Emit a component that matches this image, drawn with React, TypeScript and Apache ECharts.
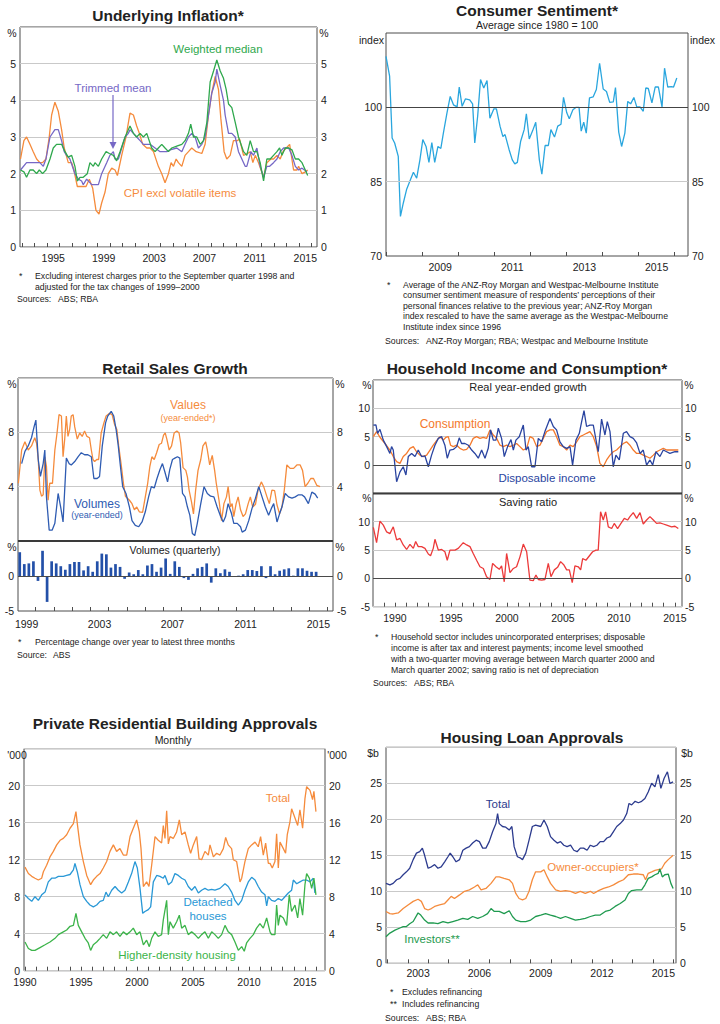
import React, { useEffect, useRef } from "react";
import * as echarts from "echarts";

const FONT = '"Liberation Sans", Arial, Helvetica, sans-serif';

// ===== Panel 1: Underlying Inflation (year-ended, %) =====
const inflTrimmedMean = [
  [1992.9, 2.1], [1993.38, 2.3], [1994.44, 2.3], [1994.71, 2.2], [1994.92, 2.4], [1995.24, 3.0], [1995.63, 3.2], [1995.9, 3.2],
  [1996.16, 2.9], [1996.37, 2.6], [1996.56, 2.5], [1996.82, 2.4], [1997.22, 2.0], [1997.49, 1.85], [1997.75, 1.8], [1997.88, 1.7],
  [1998.15, 1.85], [1998.55, 1.7], [1999.08, 1.7], [1999.34, 2.0], [1999.74, 2.3], [2000.0, 2.5], [2000.27, 2.6], [2000.4, 2.4],
  [2000.67, 2.4], [2000.93, 2.7], [2001.2, 3.0], [2001.46, 3.1], [2001.59, 3.2], [2001.86, 3.1], [2002.12, 3.0], [2002.39, 2.9],
  [2002.65, 2.8], [2003.18, 2.8], [2003.58, 2.7], [2003.98, 2.6], [2004.51, 2.6], [2004.77, 2.65], [2005.3, 2.7], [2005.7, 2.6],
  [2005.96, 2.8], [2006.23, 3.0], [2006.49, 3.1], [2006.76, 3.0], [2007.02, 2.7], [2007.29, 2.8], [2007.55, 3.0], [2007.82, 3.6],
  [2008.08, 4.2], [2008.35, 4.5], [2008.48, 4.85], [2008.75, 4.4], [2009.01, 4.0], [2009.14, 3.6], [2009.41, 3.1], [2009.67, 3.1],
  [2009.94, 3.0], [2010.2, 2.6], [2010.73, 2.2], [2010.86, 2.2], [2011.18, 2.6], [2011.39, 2.5], [2011.66, 2.7], [2011.92, 2.2],
  [2012.19, 1.9], [2012.45, 2.2], [2012.67, 2.2], [2012.98, 2.3], [2013.25, 2.4], [2013.51, 2.6], [2013.78, 2.7], [2014.18, 2.7],
  [2014.44, 2.5], [2014.71, 2.2], [2014.97, 2.1], [2015.24, 2.15], [2015.64, 2.05],
];
const inflWeightedMedian = [
  [1992.9, 2.1], [1993.17, 2.05], [1993.38, 1.9], [1993.65, 2.1], [1993.91, 2.1], [1994.18, 2.0], [1994.39, 2.1], [1994.65, 2.0],
  [1994.92, 2.1], [1995.24, 2.4], [1995.5, 2.7], [1995.76, 2.8], [1996.16, 2.8], [1996.43, 2.6], [1996.69, 2.45], [1996.96, 2.5],
  [1997.22, 2.2], [1997.41, 1.8], [1997.62, 1.9], [1997.88, 1.9], [1998.2, 2.0], [1998.41, 2.3], [1998.68, 2.2], [1998.81, 2.3],
  [1999.08, 2.2], [1999.34, 2.4], [1999.69, 2.6], [1999.95, 2.55], [2000.27, 2.5], [2000.53, 2.35], [2000.8, 2.6], [2001.2, 3.0],
  [2001.59, 3.3], [2001.86, 3.1], [2002.12, 3.0], [2002.39, 3.1], [2002.65, 3.0], [2002.92, 3.1], [2003.31, 2.7], [2003.58, 2.6],
  [2003.84, 2.7], [2004.11, 2.8], [2004.37, 2.7], [2004.64, 2.6], [2004.9, 2.7], [2005.3, 2.75], [2005.7, 2.8], [2005.96, 2.9],
  [2006.23, 3.1], [2006.41, 3.35], [2006.63, 3.0], [2006.89, 3.0], [2007.16, 2.8], [2007.42, 2.9], [2007.69, 3.4], [2007.95, 4.5],
  [2008.22, 4.8], [2008.48, 5.1], [2008.75, 4.8], [2009.01, 4.6], [2009.22, 4.3], [2009.41, 3.9], [2009.67, 3.8], [2009.94, 3.4],
  [2010.2, 3.0], [2010.6, 2.6], [2010.86, 2.5], [2011.13, 2.9], [2011.39, 2.6], [2011.66, 2.6], [2011.92, 2.3], [2012.19, 1.8],
  [2012.45, 2.4], [2012.72, 2.4], [2012.98, 2.5], [2013.25, 2.6], [2013.46, 2.7], [2013.65, 2.5], [2013.91, 2.7], [2014.18, 2.7],
  [2014.44, 2.65], [2014.71, 2.4], [2014.97, 2.4], [2015.24, 2.3], [2015.5, 2.1], [2015.69, 1.95],
];
const inflCpiExVolatile = [
  [1992.9, 2.4], [1993.17, 2.9], [1993.38, 3.0], [1993.65, 2.8], [1993.91, 2.6], [1994.18, 2.4], [1994.44, 2.3], [1994.65, 2.3],
  [1994.92, 2.4], [1995.18, 3.0], [1995.37, 3.6], [1995.63, 3.95], [1995.9, 3.7], [1996.16, 3.2], [1996.37, 2.7], [1996.69, 2.3],
  [1996.96, 2.3], [1997.14, 2.1], [1997.41, 1.65], [1997.75, 1.65], [1998.1, 1.65], [1998.36, 1.85], [1998.63, 1.6], [1998.89, 1.0],
  [1999.13, 0.9], [1999.34, 1.2], [1999.61, 1.5], [1999.87, 2.0], [2000.14, 2.15], [2000.4, 2.1], [2000.59, 1.95], [2000.93, 2.5],
  [2001.27, 3.0], [2001.59, 3.65], [2001.86, 3.6], [2002.12, 3.3], [2002.33, 3.1], [2002.6, 2.8], [2002.92, 2.7], [2003.18, 2.7],
  [2003.45, 2.6], [2003.84, 2.2], [2004.11, 2.0], [2004.37, 1.75], [2004.64, 2.0], [2004.85, 2.3], [2005.04, 2.2], [2005.25, 2.4],
  [2005.43, 2.3], [2005.7, 2.2], [2005.96, 2.5], [2006.23, 2.6], [2006.49, 2.7], [2006.84, 2.6], [2007.29, 2.55], [2007.55, 2.8],
  [2007.82, 3.6], [2008.08, 4.2], [2008.35, 4.65], [2008.61, 4.3], [2008.8, 3.5], [2009.06, 2.6], [2009.27, 2.4], [2009.54, 2.5],
  [2009.8, 2.9], [2010.12, 2.9], [2010.28, 2.95], [2010.6, 2.5], [2010.92, 2.55], [2011.13, 2.6], [2011.34, 2.3], [2011.53, 2.5],
  [2011.79, 2.3], [2012.19, 1.9], [2012.45, 2.3], [2012.77, 2.4], [2012.98, 2.4], [2013.25, 2.5], [2013.51, 2.4], [2013.73, 2.6],
  [2013.99, 2.7], [2014.26, 2.8], [2014.57, 2.1], [2014.84, 2.1], [2014.97, 2.2], [2015.24, 2.0], [2015.5, 2.05], [2015.69, 2.1],
];
const inflYLabels = [0, 1, 2, 3, 4, 5];
const inflXLabels = [1995, 1999, 2003, 2007, 2011, 2015];

// ===== Panel 2: Consumer Sentiment (index, average since 1980 = 100) =====
const sentiment = [
  [2008.0, 110.3], [2008.1, 106.3], [2008.17, 93.8], [2008.24, 92.8], [2008.34, 90.1], [2008.4, 78.0], [2008.48, 80.7], [2008.57, 83.4],
  [2008.66, 85.1], [2008.76, 86.9], [2008.85, 85.7], [2008.94, 89.4], [2009.02, 93.5], [2009.11, 92.1], [2009.19, 88.9], [2009.27, 92.9],
  [2009.35, 88.9], [2009.44, 92.1], [2009.52, 91.7], [2009.59, 94.8], [2009.69, 98.9], [2009.78, 102.2], [2009.87, 100.5], [2009.97, 100.1],
  [2010.03, 104.1], [2010.11, 100.2], [2010.2, 101.7], [2010.32, 101.5], [2010.4, 100.7], [2010.46, 92.8], [2010.54, 98.2], [2010.62, 105.6],
  [2010.71, 103.9], [2010.8, 105.4], [2010.88, 97.8], [2010.99, 99.7], [2011.06, 99.7], [2011.16, 96.2], [2011.24, 94.1], [2011.3, 94.5],
  [2011.41, 91.5], [2011.5, 89.4], [2011.57, 88.6], [2011.64, 88.9], [2011.73, 93.1], [2011.83, 95.5], [2011.89, 98.7], [2011.97, 93.6],
  [2012.06, 95.2], [2012.15, 97.0], [2012.25, 89.4], [2012.32, 86.5], [2012.41, 92.3], [2012.5, 92.3], [2012.57, 95.5], [2012.67, 94.0],
  [2012.76, 96.2], [2012.85, 96.6], [2012.92, 102.0], [2013.01, 98.9], [2013.08, 97.7], [2013.18, 99.5], [2013.27, 100.0], [2013.35, 100.0],
  [2013.41, 95.2], [2013.48, 97.0], [2013.55, 94.8], [2013.64, 101.9], [2013.74, 102.1], [2013.83, 103.6], [2013.92, 108.9], [2014.02, 103.7],
  [2014.11, 103.2], [2014.2, 101.0], [2014.3, 101.1], [2014.36, 104.0], [2014.45, 95.0], [2014.53, 92.1], [2014.62, 94.8], [2014.7, 101.2],
  [2014.78, 100.7], [2014.87, 102.0], [2014.95, 100.1], [2015.04, 100.1], [2015.13, 99.2], [2015.2, 103.9], [2015.27, 103.8], [2015.37, 100.9],
  [2015.46, 104.1], [2015.55, 104.1], [2015.65, 100.1], [2015.72, 107.9], [2015.81, 104.1], [2015.91, 104.2], [2015.97, 104.1], [2016.06, 105.9],
];
const sentYLabels = [70, 85, 100];
const sentXLabels = [2009, 2011, 2013, 2015];

// ===== Panel 3: Retail Sales Growth (%) =====
const retailValues = [
  [1999.05, 4.25], [1999.23, 6.7], [1999.41, 7.3], [1999.59, 6.7], [1999.77, 7.0], [1999.95, 7.6], [2000.05, 7.2], [2000.14, 6.0],
  [2000.23, 3.75], [2000.32, 3.3], [2000.41, 3.4], [2000.5, 6.2], [2000.59, 5.5], [2000.68, 3.0], [2000.77, 4.25], [2000.92, 4.25],
  [2001.05, 6.7], [2001.17, 7.95], [2001.28, 9.3], [2001.41, 9.2], [2001.5, 6.2], [2001.59, 7.5], [2001.68, 9.2], [2001.77, 7.7],
  [2001.86, 8.2], [2001.95, 9.2], [2002.05, 9.3], [2002.14, 8.4], [2002.28, 7.5], [2002.41, 7.95], [2002.55, 7.7], [2002.68, 8.1],
  [2002.81, 7.7], [2002.95, 7.6], [2003.05, 6.7], [2003.14, 6.0], [2003.23, 5.85], [2003.35, 6.0], [2003.45, 6.0], [2003.59, 7.95],
  [2003.74, 8.7], [2003.86, 9.2], [2004.05, 9.4], [2004.19, 9.3], [2004.32, 8.6], [2004.45, 8.2], [2004.55, 7.0], [2004.68, 5.7],
  [2004.81, 4.25], [2004.92, 3.3], [2005.14, 3.0], [2005.28, 2.75], [2005.41, 2.3], [2005.54, 2.5], [2005.68, 2.15], [2005.86, 2.1],
  [2006.01, 3.25], [2006.14, 4.25], [2006.26, 5.5], [2006.37, 6.2], [2006.5, 6.0], [2006.63, 6.5], [2006.77, 7.1], [2006.9, 7.2],
  [2007.01, 7.8], [2007.1, 7.95], [2007.19, 7.5], [2007.32, 6.7], [2007.45, 7.0], [2007.59, 7.95], [2007.74, 8.1], [2007.86, 7.95],
  [2007.95, 7.2], [2008.08, 5.4], [2008.23, 5.2], [2008.32, 4.7], [2008.41, 3.75], [2008.54, 2.9], [2008.65, 2.0], [2008.77, 3.75],
  [2008.9, 5.2], [2009.05, 6.0], [2009.17, 7.0], [2009.32, 7.3], [2009.41, 6.7], [2009.54, 5.6], [2009.68, 6.3], [2009.81, 5.2],
  [2009.9, 4.25], [2010.05, 3.0], [2010.19, 1.5], [2010.32, 2.75], [2010.46, 3.25], [2010.55, 4.0], [2010.68, 2.5], [2010.77, 2.75],
  [2010.86, 1.8], [2010.99, 2.75], [2011.1, 3.25], [2011.23, 2.3], [2011.37, 1.8], [2011.5, 2.0], [2011.65, 2.75], [2011.77, 3.25],
  [2011.9, 2.5], [2012.05, 2.7], [2012.19, 3.75], [2012.37, 4.35], [2012.5, 4.0], [2012.68, 3.25], [2012.81, 2.75], [2012.95, 3.75],
  [2013.1, 3.7], [2013.23, 2.65], [2013.37, 2.0], [2013.5, 2.5], [2013.63, 3.75], [2013.77, 5.6], [2013.95, 5.35], [2014.14, 5.35],
  [2014.32, 5.6], [2014.5, 5.6], [2014.63, 5.2], [2014.77, 4.0], [2014.92, 4.25], [2015.08, 4.6], [2015.23, 4.6], [2015.41, 4.1], [2015.59, 4.0],
];
const retailVolumes = [
  [1999.23, 5.7], [1999.41, 6.6], [1999.59, 7.0], [1999.77, 7.6], [1999.92, 8.45], [2000.01, 8.9], [2000.14, 6.0], [2000.26, 4.75],
  [2000.41, 5.7], [2000.5, 6.7], [2000.59, 3.25], [2000.74, 0.8], [2000.9, 0.8], [2001.05, 1.3], [2001.23, 3.5], [2001.37, 2.5],
  [2001.5, 1.4], [2001.68, 6.1], [2001.83, 5.7], [2001.95, 5.6], [2002.14, 5.85], [2002.32, 6.2], [2002.5, 6.5], [2002.68, 6.35],
  [2002.86, 6.35], [2003.05, 6.2], [2003.19, 4.6], [2003.37, 4.6], [2003.5, 4.75], [2003.65, 7.0], [2003.83, 8.7], [2003.95, 9.2],
  [2004.14, 9.55], [2004.28, 9.2], [2004.41, 8.2], [2004.52, 7.1], [2004.63, 5.7], [2004.77, 4.0], [2004.95, 3.5], [2005.14, 2.5],
  [2005.28, 1.5], [2005.46, 1.15], [2005.65, 1.05], [2005.83, 1.4], [2006.01, 2.15], [2006.19, 3.25], [2006.34, 4.0], [2006.5, 3.9],
  [2006.65, 4.6], [2006.81, 5.25], [2006.95, 5.7], [2007.08, 5.1], [2007.23, 4.35], [2007.35, 5.25], [2007.5, 6.0], [2007.63, 6.1],
  [2007.77, 6.2], [2007.9, 6.1], [2008.05, 3.5], [2008.19, 3.25], [2008.32, 2.5], [2008.45, 1.9], [2008.59, 0.55], [2008.72, 0.4],
  [2008.86, 1.3], [2009.05, 2.75], [2009.23, 4.0], [2009.41, 3.5], [2009.59, 3.3], [2009.77, 3.25], [2009.95, 2.5], [2010.14, 1.8],
  [2010.28, 1.4], [2010.41, 1.8], [2010.55, 2.75], [2010.74, 2.0], [2010.86, 1.3], [2011.05, 1.3], [2011.23, 1.05], [2011.32, 0.65],
  [2011.5, 0.8], [2011.68, 1.5], [2011.86, 2.4], [2012.05, 3.15], [2012.23, 4.0], [2012.41, 3.25], [2012.59, 2.5], [2012.77, 1.9],
  [2012.92, 2.4], [2013.05, 2.75], [2013.23, 1.4], [2013.37, 2.0], [2013.5, 2.5], [2013.68, 3.5], [2013.86, 3.25], [2014.05, 3.15],
  [2014.23, 3.25], [2014.41, 3.4], [2014.59, 3.4], [2014.74, 3.25], [2014.95, 2.75], [2015.14, 3.6], [2015.32, 3.45], [2015.46, 3.15],
];
const retailVolQuarterlyStart = 1999.125;
const retailVolQuarterly = [
  3.4, 1.7, 1.8, 2.1, -0.7, 3.6, -3.7, 2.1, 1.8, 1.4, 0.9, 1.7, 2.0, 2.0, 0.8, 1.4, 0.6, 2.1, 3.2, 3.1,
  1.2, 1.7, 1.3, -0.4, 0.5, 0.25, 0.85, 0.25, 1.5, 1.7, 0.6, 1.2, 2.5, 0.3, 2.1, 1.3, -0.3, -0.55, 0.3, 1.1,
  1.3, 1.8, -0.95, 1.1, 0.4, 0.95, 0.6, -0.1, 0.05, 0.25, 0.85, 0.85, 0.7, 1.4, -0.3, 1.4, 0.25, 0.75, 0.95, 1.1,
  0.05, 1.1, 1.1, 0.75, 0.6, 0.6,
];
const retailXLabels = [1999, 2003, 2007, 2011, 2015];

// ===== Panel 4: Household Income and Consumption (%) =====
const hhConsumption = [
  [1988.07, 5.0], [1988.36, 5.9], [1988.66, 4.9], [1989.11, 3.8], [1989.55, 2.65], [1989.85, 1.5], [1990.15, 0.6], [1990.45, 0.3],
  [1990.74, 1.5], [1991.04, 2.05], [1991.34, 2.95], [1991.64, 3.25], [1991.93, 2.35], [1992.23, 1.75], [1992.53, 1.5], [1992.83, 1.75],
  [1993.13, 2.65], [1993.42, 3.5], [1993.72, 4.3], [1994.02, 5.0], [1994.32, 4.4], [1994.55, 4.9], [1994.76, 5.0], [1994.97, 3.5],
  [1995.21, 3.25], [1995.51, 3.5], [1995.8, 2.95], [1996.1, 2.65], [1996.4, 2.75], [1996.7, 3.5], [1996.99, 4.7], [1997.29, 5.0],
  [1997.59, 4.7], [1997.89, 4.9], [1998.18, 4.7], [1998.48, 6.2], [1998.78, 5.3], [1999.08, 4.7], [1999.38, 3.5], [1999.67, 3.25],
  [1999.97, 3.5], [2000.27, 3.25], [2000.57, 3.5], [2000.86, 3.8], [2001.16, 3.25], [2001.46, 2.65], [2001.76, 2.95], [2002.05, 5.0],
  [2002.35, 4.7], [2002.65, 3.25], [2002.95, 3.5], [2003.24, 4.7], [2003.54, 5.9], [2003.84, 6.2], [2004.14, 6.2], [2004.43, 5.0],
  [2004.73, 3.5], [2005.03, 3.25], [2005.33, 2.65], [2005.63, 3.5], [2005.92, 3.25], [2006.22, 4.1], [2006.52, 5.0], [2006.82, 5.3],
  [2007.11, 5.6], [2007.41, 5.9], [2007.71, 5.0], [2008.01, 3.25], [2008.3, 0.3], [2008.6, -0.3], [2008.9, 0.9], [2009.2, 1.75],
  [2009.49, 2.35], [2009.79, 2.65], [2010.09, 3.25], [2010.39, 3.8], [2010.68, 4.1], [2010.98, 3.5], [2011.28, 2.65], [2011.58, 2.05],
  [2011.88, 2.05], [2012.17, 1.75], [2012.47, 1.5], [2012.77, 1.2], [2013.07, 1.75], [2013.36, 2.35], [2013.66, 2.65], [2013.96, 2.95],
  [2014.26, 2.65], [2014.55, 2.65], [2015.0, 2.65], [2015.3, 2.65],
];
const hhDisposableIncome = [
  [1988.07, 7.05], [1988.3, 7.1], [1988.45, 5.6], [1988.66, 6.3], [1988.96, 4.4], [1989.26, 3.25], [1989.55, 2.05], [1989.7, 3.25],
  [1989.85, 2.65], [1990.15, -2.95], [1990.45, -1.2], [1990.74, -0.3], [1990.98, -1.75], [1991.19, 1.5], [1991.49, 2.05], [1991.79, 1.5],
  [1992.08, 2.65], [1992.38, 1.5], [1992.68, 1.6], [1992.98, -0.3], [1993.27, 1.75], [1993.57, 3.5], [1993.87, 4.7], [1994.17, 5.0],
  [1994.46, 3.5], [1994.67, 1.2], [1994.91, 2.65], [1995.21, 2.75], [1995.51, 3.25], [1995.74, 4.8], [1995.95, 3.8], [1996.25, 3.8],
  [1996.55, 3.5], [1996.85, 2.65], [1997.14, 2.05], [1997.44, 1.2], [1997.74, 2.65], [1998.04, 1.2], [1998.33, 2.95], [1998.54, 6.2],
  [1998.78, 4.4], [1999.02, 4.4], [1999.23, 6.5], [1999.52, 4.7], [1999.76, 1.5], [2000.06, 3.25], [2000.36, 4.5], [2000.57, 2.65],
  [2000.8, 4.4], [2001.1, 5.0], [2001.46, 7.05], [2001.7, 2.65], [2001.9, 3.25], [2002.2, -0.3], [2002.5, -0.3], [2002.8, 4.7],
  [2003.1, 4.1], [2003.39, 5.9], [2003.84, 8.2], [2004.14, 6.8], [2004.43, 6.2], [2004.73, 4.1], [2005.03, 3.25], [2005.33, 2.95],
  [2005.63, 3.25], [2005.86, 0.0], [2006.16, 4.4], [2006.46, 5.6], [2006.67, 7.65], [2006.88, 9.6], [2007.11, 6.8], [2007.41, 7.05],
  [2007.71, 7.05], [2008.01, 3.8], [2008.15, 2.35], [2008.45, 8.1], [2008.75, 5.3], [2008.96, 7.65], [2009.2, 5.9], [2009.49, -0.3],
  [2009.73, 1.75], [2010.03, 0.9], [2010.39, 5.6], [2010.68, 5.9], [2010.98, 5.0], [2011.28, 4.7], [2011.58, 3.9], [2011.88, 2.05],
  [2012.17, 2.65], [2012.47, 0.0], [2012.77, 0.9], [2013.01, 0.0], [2013.3, 2.35], [2013.66, 1.5], [2013.96, 2.65], [2014.26, 2.35],
  [2014.55, 2.05], [2015.0, 2.35], [2015.3, 2.35],
];
const hhSavingRatio = [
  [1988.07, 9.0], [1988.36, 6.3], [1988.66, 10.1], [1988.96, 9.4], [1989.26, 8.2], [1989.55, 7.9], [1989.85, 9.1], [1990.15, 6.8],
  [1990.45, 7.05], [1990.74, 5.9], [1991.04, 5.1], [1991.34, 6.0], [1991.64, 5.3], [1991.85, 6.5], [1992.08, 5.6], [1992.38, 5.6],
  [1992.68, 5.3], [1992.98, 4.3], [1993.18, 4.0], [1993.42, 5.3], [1993.57, 6.9], [1993.87, 5.0], [1994.17, 5.1], [1994.46, 4.7],
  [1994.67, 3.2], [1994.91, 5.0], [1995.36, 5.0], [1995.65, 5.3], [1996.1, 6.3], [1996.4, 5.9], [1996.7, 5.6], [1996.99, 4.4],
  [1997.29, 3.2], [1997.59, 2.05], [1997.89, 1.75], [1998.18, 0.3], [1998.48, -0.2], [1998.72, 2.65], [1999.02, 2.05], [1999.32, 1.6],
  [1999.52, 2.2], [1999.76, -0.6], [1999.97, 4.4], [2000.27, 1.0], [2000.57, 1.75], [2000.86, 2.05], [2001.16, 3.8], [2001.46, 6.05],
  [2001.76, 4.7], [2002.05, -0.3], [2002.35, -0.4], [2002.59, 0.6], [2002.8, -0.2], [2003.1, -0.3], [2003.39, -0.2], [2003.69, 2.65],
  [2003.93, 0.3], [2004.23, 1.5], [2004.52, 1.95], [2004.79, 2.95], [2005.09, 2.35], [2005.33, 1.5], [2005.57, 1.5], [2005.83, -0.75],
  [2006.07, 2.2], [2006.37, 2.05], [2006.58, 1.5], [2006.76, 3.5], [2007.05, 3.2], [2007.35, 3.95], [2007.65, 4.7], [2007.95, 5.0],
  [2008.15, 5.0], [2008.36, 11.75], [2008.6, 10.3], [2008.81, 11.75], [2009.05, 9.1], [2009.35, 8.8], [2009.58, 9.7], [2009.88, 8.8],
  [2010.18, 9.7], [2010.48, 10.6], [2010.77, 10.3], [2010.98, 10.9], [2011.28, 11.6], [2011.58, 10.6], [2011.88, 11.6], [2012.17, 9.6],
  [2012.47, 10.3], [2012.77, 10.9], [2013.07, 10.3], [2013.36, 9.7], [2013.66, 9.8], [2013.96, 9.6], [2014.26, 9.4], [2014.7, 9.1],
  [2015.0, 9.2], [2015.3, 8.8],
];
const hhXLabels = [1990, 1995, 2000, 2005, 2010, 2015];

// ===== Panel 5: Private Residential Building Approvals ('000, monthly) =====
const bldTotal = [
  [1990.0, 11.2], [1990.3, 10.5], [1990.6, 10.2], [1990.89, 10.0], [1991.19, 9.8], [1991.49, 10.0], [1991.64, 10.7], [1991.93, 11.4],
  [1992.23, 12.3], [1992.53, 12.9], [1992.83, 13.6], [1993.13, 14.1], [1993.42, 14.3], [1993.72, 14.7], [1994.02, 15.4], [1994.32, 15.9],
  [1994.55, 17.2], [1994.7, 15.6], [1994.91, 13.6], [1995.21, 11.8], [1995.51, 10.3], [1995.86, 9.3], [1996.1, 9.8], [1996.4, 10.2],
  [1996.7, 10.5], [1996.99, 11.1], [1997.29, 11.8], [1997.59, 12.9], [1997.89, 13.6], [1998.18, 12.9], [1998.48, 13.2], [1998.78, 12.5],
  [1999.08, 12.5], [1999.38, 14.5], [1999.67, 15.4], [1999.97, 16.3], [2000.21, 15.0], [2000.36, 13.2], [2000.57, 9.1], [2000.86, 9.6],
  [2001.07, 9.1], [2001.31, 11.4], [2001.61, 14.5], [2001.9, 14.1], [2002.2, 13.8], [2002.35, 15.7], [2002.5, 14.3], [2002.65, 17.3],
  [2002.8, 13.7], [2002.95, 14.5], [2003.24, 14.3], [2003.54, 15.0], [2003.78, 16.3], [2003.99, 14.7], [2004.29, 15.0], [2004.58, 13.6],
  [2004.79, 12.7], [2005.03, 13.6], [2005.33, 14.5], [2005.54, 12.1], [2005.77, 12.0], [2006.07, 12.9], [2006.37, 12.5], [2006.52, 13.6],
  [2006.82, 12.3], [2007.11, 12.7], [2007.41, 12.5], [2007.71, 13.2], [2007.92, 14.4], [2008.15, 13.6], [2008.45, 13.2], [2008.6, 12.0],
  [2008.9, 11.8], [2009.05, 10.7], [2009.2, 9.6], [2009.35, 10.0], [2009.64, 11.8], [2009.94, 13.2], [2010.24, 13.6], [2010.54, 13.9],
  [2010.83, 13.4], [2011.04, 14.5], [2011.28, 12.5], [2011.49, 13.8], [2011.73, 11.6], [2011.88, 11.6], [2012.08, 11.1], [2012.32, 11.8],
  [2012.47, 14.8], [2012.62, 11.1], [2012.77, 13.9], [2013.07, 13.2], [2013.27, 12.7], [2013.42, 14.7], [2013.66, 16.1], [2013.81, 17.5],
  [2014.11, 16.5], [2014.35, 15.7], [2014.55, 17.4], [2014.79, 15.4], [2015.0, 18.6], [2015.15, 19.9], [2015.45, 19.5], [2015.68, 18.5],
  [2015.8, 19.4], [2015.98, 17.2],
];
const bldDetached = [
  [1990.0, 8.2], [1990.3, 7.8], [1990.6, 7.5], [1990.89, 8.0], [1991.19, 7.6], [1991.49, 8.2], [1991.79, 8.5], [1992.08, 9.6],
  [1992.38, 10.0], [1992.68, 10.0], [1992.98, 10.2], [1993.42, 10.2], [1993.72, 10.3], [1994.02, 10.4], [1994.32, 10.9], [1994.46, 11.6],
  [1994.67, 10.7], [1994.91, 9.3], [1995.21, 8.0], [1995.51, 7.5], [1995.8, 7.1], [1996.1, 6.9], [1996.4, 7.1], [1996.7, 7.5],
  [1996.99, 7.6], [1997.23, 8.5], [1997.44, 8.0], [1997.74, 8.7], [1998.04, 9.1], [1998.33, 8.7], [1998.63, 8.4], [1998.93, 8.7],
  [1999.23, 9.6], [1999.52, 10.5], [1999.82, 11.8], [2000.03, 11.1], [2000.27, 8.9], [2000.51, 6.2], [2000.71, 6.4], [2001.01, 6.6],
  [2001.22, 6.9], [2001.46, 9.6], [2001.76, 10.3], [2002.05, 10.2], [2002.35, 10.0], [2002.5, 10.3], [2002.65, 9.8], [2002.8, 9.3],
  [2003.1, 9.6], [2003.39, 10.5], [2003.69, 10.3], [2003.99, 10.0], [2004.29, 9.8], [2004.58, 9.1], [2004.88, 8.7], [2005.18, 9.1],
  [2005.48, 8.4], [2005.77, 8.7], [2006.07, 8.9], [2006.37, 8.7], [2006.67, 8.8], [2006.96, 8.7], [2007.41, 8.9], [2007.86, 9.4],
  [2008.15, 9.1], [2008.45, 8.5], [2008.75, 7.6], [2009.05, 7.1], [2009.35, 7.6], [2009.64, 8.7], [2009.94, 9.6], [2010.24, 10.1],
  [2010.54, 9.8], [2010.83, 9.1], [2011.13, 8.5], [2011.43, 8.2], [2011.58, 7.0], [2011.73, 8.0], [2012.02, 7.6], [2012.32, 7.5],
  [2012.62, 7.8], [2012.92, 7.6], [2013.21, 8.0], [2013.51, 8.4], [2013.81, 8.7], [2013.96, 9.8], [2014.26, 9.4], [2014.55, 9.6],
  [2014.85, 9.8], [2015.15, 9.8], [2015.45, 9.6], [2015.74, 10.0], [2015.89, 8.4],
];
const bldHigherDensity = [
  [1990.0, 3.1], [1990.3, 2.4], [1990.6, 2.2], [1990.89, 2.2], [1991.34, 2.5], [1991.79, 2.8], [1992.23, 3.1], [1992.68, 3.5],
  [1992.98, 3.9], [1993.42, 4.2], [1993.72, 4.4], [1994.02, 4.8], [1994.32, 4.9], [1994.55, 6.2], [1994.76, 4.9], [1995.06, 4.2],
  [1995.36, 3.5], [1995.65, 3.0], [1995.86, 2.2], [1996.1, 2.8], [1996.4, 3.1], [1996.7, 3.5], [1996.99, 3.9], [1997.29, 3.5],
  [1997.59, 4.2], [1997.89, 3.9], [1998.18, 4.2], [1998.48, 3.7], [1998.78, 4.2], [1999.08, 3.9], [1999.38, 4.2], [1999.67, 4.6],
  [1999.97, 3.9], [2000.27, 4.2], [2000.57, 2.8], [2000.86, 3.3], [2001.1, 2.6], [2001.31, 3.5], [2001.61, 4.2], [2001.9, 3.7],
  [2002.2, 3.9], [2002.35, 5.5], [2002.65, 7.6], [2002.8, 3.9], [2002.95, 5.3], [2003.24, 4.6], [2003.54, 5.3], [2003.78, 6.0],
  [2003.99, 4.6], [2004.29, 4.9], [2004.58, 3.9], [2004.88, 4.2], [2005.18, 3.9], [2005.48, 3.5], [2005.77, 3.9], [2006.07, 4.2],
  [2006.37, 3.5], [2006.67, 4.2], [2006.96, 3.9], [2007.26, 3.5], [2007.56, 3.9], [2007.86, 4.9], [2008.15, 4.2], [2008.45, 3.9],
  [2008.75, 3.1], [2009.05, 2.2], [2009.35, 2.6], [2009.58, 2.1], [2009.79, 3.0], [2010.09, 3.5], [2010.39, 3.9], [2010.68, 4.6],
  [2010.98, 5.1], [2011.28, 4.6], [2011.58, 5.7], [2011.88, 4.2], [2012.02, 3.9], [2012.32, 3.9], [2012.47, 7.1], [2012.62, 4.9],
  [2012.77, 6.0], [2013.07, 5.7], [2013.36, 4.9], [2013.6, 8.2], [2013.81, 6.4], [2014.11, 7.1], [2014.35, 5.7], [2014.55, 7.8],
  [2014.79, 6.0], [2015.0, 9.3], [2015.15, 10.5], [2015.39, 10.0], [2015.6, 8.9], [2015.8, 10.0], [2015.98, 8.2],
];
const bldXLabels = [1990, 1995, 2000, 2005, 2010, 2015];

// ===== Panel 6: Housing Loan Approvals ($b) =====
const loanTotal = [
  [2001.93, 11.1], [2002.12, 10.9], [2002.28, 11.1], [2002.45, 11.6], [2002.61, 11.8], [2002.77, 12.3], [2002.93, 12.7], [2003.09, 13.2],
  [2003.26, 14.4], [2003.42, 15.3], [2003.58, 15.5], [2003.71, 16.0], [2003.82, 15.0], [2003.99, 13.2], [2004.15, 13.4], [2004.31, 13.7],
  [2004.47, 13.2], [2004.63, 13.4], [2004.8, 14.1], [2004.96, 14.8], [2005.07, 15.3], [2005.2, 14.8], [2005.36, 14.1], [2005.53, 14.4],
  [2005.69, 15.7], [2005.85, 16.0], [2006.01, 16.2], [2006.17, 16.7], [2006.34, 17.1], [2006.5, 16.9], [2006.66, 16.0], [2006.82, 16.0],
  [2006.98, 16.9], [2007.15, 18.3], [2007.31, 19.4], [2007.39, 20.8], [2007.47, 19.4], [2007.63, 19.0], [2007.79, 18.9], [2007.96, 18.5],
  [2008.09, 19.0], [2008.2, 16.2], [2008.36, 14.8], [2008.52, 14.6], [2008.61, 14.4], [2008.77, 15.3], [2008.93, 17.1], [2009.09, 19.0],
  [2009.25, 19.2], [2009.5, 19.0], [2009.66, 19.9], [2009.82, 19.0], [2009.98, 17.6], [2010.15, 17.1], [2010.31, 16.7], [2010.47, 16.9],
  [2010.63, 16.4], [2010.79, 16.2], [2010.96, 16.4], [2011.12, 15.7], [2011.28, 15.5], [2011.44, 16.0], [2011.6, 16.0], [2011.77, 15.7],
  [2011.93, 16.4], [2012.09, 16.2], [2012.25, 16.4], [2012.41, 16.9], [2012.58, 16.9], [2012.74, 17.4], [2012.9, 17.6], [2013.06, 18.3],
  [2013.22, 19.0], [2013.39, 19.4], [2013.55, 19.9], [2013.71, 20.8], [2013.82, 22.2], [2013.95, 22.0], [2014.12, 22.5], [2014.28, 22.3],
  [2014.44, 22.5], [2014.6, 22.9], [2014.76, 23.8], [2014.93, 25.0], [2015.09, 24.5], [2015.25, 26.2], [2015.38, 24.3], [2015.54, 25.7],
  [2015.7, 26.6], [2015.82, 25.0], [2015.98, 25.2],
];
const loanOwnerOccupiers = [
  [2001.93, 7.2], [2002.12, 6.9], [2002.28, 6.85], [2002.53, 7.0], [2002.77, 7.6], [2003.01, 8.1], [2003.26, 8.6], [2003.5, 8.9],
  [2003.66, 8.6], [2003.82, 7.6], [2003.99, 7.4], [2004.15, 7.6], [2004.31, 7.9], [2004.55, 8.1], [2004.8, 8.3], [2004.96, 8.8],
  [2005.12, 9.3], [2005.28, 9.0], [2005.53, 9.5], [2005.77, 10.0], [2006.01, 10.2], [2006.26, 10.6], [2006.42, 10.9], [2006.58, 10.2],
  [2006.82, 10.4], [2007.07, 11.1], [2007.31, 12.0], [2007.47, 12.0], [2007.71, 11.8], [2007.96, 11.6], [2008.12, 11.1], [2008.28, 9.7],
  [2008.44, 9.0], [2008.61, 8.8], [2008.77, 9.0], [2008.93, 10.0], [2009.09, 11.6], [2009.25, 12.7], [2009.5, 12.7], [2009.66, 13.0],
  [2009.82, 12.0], [2009.98, 11.1], [2010.23, 10.2], [2010.47, 10.0], [2010.71, 10.1], [2010.96, 10.0], [2011.2, 9.7], [2011.44, 10.0],
  [2011.68, 9.7], [2011.93, 10.0], [2012.09, 9.7], [2012.33, 10.1], [2012.58, 10.4], [2012.82, 10.6], [2013.06, 10.9], [2013.31, 11.3],
  [2013.55, 11.6], [2013.79, 12.3], [2014.03, 12.4], [2014.28, 12.4], [2014.52, 12.3], [2014.63, 11.6], [2014.76, 12.5], [2014.93, 12.7],
  [2015.09, 12.9], [2015.25, 13.0], [2015.41, 13.1], [2015.57, 13.9], [2015.74, 14.4], [2015.98, 15.0],
];
const loanInvestors = [
  [2001.93, 3.7], [2002.12, 4.2], [2002.37, 4.6], [2002.61, 4.9], [2002.77, 5.1], [2002.93, 5.1], [2003.09, 5.5], [2003.26, 5.8],
  [2003.5, 7.0], [2003.63, 6.7], [2003.82, 6.0], [2003.99, 5.6], [2004.23, 5.6], [2004.47, 5.5], [2004.72, 5.8], [2004.96, 5.6],
  [2005.2, 5.8], [2005.44, 6.0], [2005.69, 6.25], [2005.93, 6.1], [2006.17, 6.5], [2006.42, 6.25], [2006.66, 6.5], [2006.9, 6.9],
  [2007.07, 7.6], [2007.23, 7.2], [2007.47, 7.2], [2007.71, 6.9], [2007.96, 7.3], [2008.12, 6.5], [2008.28, 6.0], [2008.52, 5.8],
  [2008.77, 5.8], [2009.01, 6.0], [2009.25, 6.5], [2009.5, 6.7], [2009.74, 6.9], [2009.98, 6.7], [2010.23, 6.5], [2010.47, 6.25],
  [2010.71, 6.5], [2010.96, 6.25], [2011.2, 6.0], [2011.44, 6.1], [2011.68, 6.25], [2011.93, 6.5], [2012.17, 6.7], [2012.41, 6.7],
  [2012.66, 7.2], [2012.9, 7.4], [2013.14, 7.9], [2013.39, 8.3], [2013.63, 8.8], [2013.79, 9.7], [2013.95, 10.1], [2014.2, 10.2],
  [2014.44, 10.2], [2014.6, 10.9], [2014.76, 11.8], [2014.93, 12.0], [2015.09, 12.3], [2015.25, 12.5], [2015.33, 13.1], [2015.45, 12.0],
  [2015.57, 12.3], [2015.74, 12.4], [2015.87, 11.1], [2015.98, 10.4],
];
const loanXLabels = [2003, 2006, 2009, 2012, 2015];

// ===== colours =====
const C = {
  purple: "#7668c6",
  green: "#2fa84d",
  orange: "#f58b3c",
  sky: "#2aa6de",
  blue: "#2f5cb2",
  bar: "#2350a8",
  navy: "#2c3b8e",
  red: "#ec3a3a",
  hhOrange: "#f4792c",
  hhBlue: "#2a44a0",
  detached: "#2998d6",
  hdGreen: "#3cb44a",
  invGreen: "#1f9a4f",
  text: "#222222",
  grid: "#c9c9c9",
  border: "#4d4d4d",
};

function buildOption() {
  const grid: any[] = [];
  const xAxis: any[] = [];
  const yAxis: any[] = [];
  const series: any[] = [];
  const graphic: any[] = [];

  function addPanel(c: any) {
    const gi = grid.length;
    grid.push({
      left: c.left, top: c.top, width: c.width, height: c.height,
      show: true, borderColor: C.border, borderWidth: 1, backgroundColor: "transparent",
    });
    const ticks: number[] = [];
    for (let y = Math.ceil(c.xMin); y <= Math.floor(c.xMax); y++) ticks.push(y);
    xAxis.push({
      type: "value", gridIndex: gi, min: c.xMin, max: c.xMax, position: "bottom",
      axisLine: { show: false, onZero: false },
      splitLine: { show: false },
      axisTick: c.ticks
        ? { show: true, inside: true, length: 4, customValues: ticks, lineStyle: { color: C.border, width: 1 } }
        : { show: false },
      axisLabel: c.xLabels
        ? {
            show: true, customValues: c.xLabels, margin: c.labelMargin ?? 5,
            formatter: (v: number) => String(Math.floor(v + 0.01)),
            fontSize: 10.5, color: C.text, fontFamily: FONT,
          }
        : { show: false },
    });
    const yShow: number[] = c.yShow;
    const fmt = (v: number) => (yShow.some((s) => Math.abs(s - v) < 1e-6) ? String(v) : "");
    const base = {
      type: "value", gridIndex: gi, min: c.yMin, max: c.yMax, interval: c.yStep,
      axisLine: { show: false, onZero: false }, axisTick: { show: false },
    };
    yAxis.push({
      ...base, position: "left",
      splitLine: { show: c.split !== false, lineStyle: { color: C.grid, width: 1 } },
      axisLabel: { formatter: fmt, margin: c.yMargin ?? 4, fontSize: 10.5, color: C.text, fontFamily: FONT },
    });
    yAxis.push({
      ...base, position: "right", splitLine: { show: false },
      axisLabel: { formatter: fmt, margin: c.yMargin ?? 4, fontSize: 10.5, color: C.text, fontFamily: FONT },
    });
    return { x: gi, y: gi * 2 };
  }

  const line = (ax: any, data: any, color: string, extra: any = {}) => ({
    type: "line", xAxisIndex: ax.x, yAxisIndex: ax.y, data, showSymbol: false, symbol: "none",
    lineStyle: { color, width: 1.3 }, itemStyle: { color }, silent: true, z: 3, ...extra,
  });
  const refLines = (vals: any[]) => ({
    silent: true, symbol: "none", label: { show: false }, animation: false,
    lineStyle: { color: "#4a4a4a", width: 1, type: "solid" },
    data: vals,
  });

  const T = (text: string, x: number, y: number, o: any = {}) =>
    graphic.push({
      type: "text", x, y, silent: true, z: 10,
      style: {
        text, fill: o.color ?? C.text, fontSize: o.size ?? 10.5, fontWeight: o.bold ? "bold" : "normal",
        fontFamily: FONT, align: o.align ?? "center", verticalAlign: "middle",
      },
    });
  const foot = (lines: string[], x0: number, x1: number, y0: number, dy: number, star = "*") => {
    T(star, x0, y0, { size: 8.7, align: "left" });
    lines.forEach((l, i) => T(l, x1, y0 + i * dy, { size: 8.7, align: "left" }));
  };

  // ---------- Panel 1 ----------
  const mid = (a: number[]) => a.map((v) => v + 0.5);
  const p1 = addPanel({
    left: 20, top: 27, width: 297, height: 220, xMin: 1992.86, xMax: 2016.43,
    yMin: 0, yMax: 6, yStep: 1, yShow: inflYLabels, xLabels: mid(inflXLabels), ticks: true, labelMargin: 5,
  });
  series.push(line(p1, inflCpiExVolatile, C.orange));
  series.push(line(p1, inflTrimmedMean, C.purple));
  series.push(line(p1, inflWeightedMedian, C.green));
  T("Underlying Inflation*", 168, 15, { size: 15.5, bold: true });
  T("%", 12, 33); T("%", 324, 33);
  T("Weighted median", 218, 49, { color: C.green, size: 11.5 });
  T("Trimmed mean", 113, 88, { color: C.purple, size: 11.5 });
  T("CPI excl volatile items", 180, 193, { color: C.orange, size: 11.5 });
  graphic.push({ type: "line", silent: true, z: 10, shape: { x1: 113, y1: 95, x2: 113, y2: 143 }, style: { stroke: C.purple, lineWidth: 1.2 } });
  graphic.push({ type: "polygon", silent: true, z: 10, shape: { points: [[109.5, 142], [116.5, 142], [113, 149]] }, style: { fill: C.purple } });
  foot(["Excluding interest charges prior to the September quarter 1998 and", "adjusted for the tax changes of 1999–2000"], 19, 35, 276, 10.5);
  T("Sources:   ABS; RBA", 17, 299, { size: 8.7, align: "left" });

  // ---------- Panel 2 ----------
  const p2 = addPanel({
    left: 386, top: 33, width: 302, height: 223, xMin: 2008.0, xMax: 2016.37,
    yMin: 70, yMax: 115, yStep: 5, yShow: sentYLabels, split: false, xLabels: mid(sentXLabels), ticks: true, labelMargin: 5,
  });
  series.push(line(p2, sentiment, C.sky, {
    markLine: refLines([
      { yAxis: 85, lineStyle: { color: C.grid, width: 1, type: "solid" } },
      { yAxis: 100, lineStyle: { color: "#444", width: 1.2, type: "solid" } },
    ]),
  }));
  T("Consumer Sentiment*", 537, 10, { size: 15.5, bold: true });
  T("Average since 1980 = 100", 537, 25, { size: 10.5 });
  T("index", 384, 40, { align: "right" }); T("index", 690, 40, { align: "left" });
  foot([
    "Average of the ANZ-Roy Morgan and Westpac-Melbourne Institute",
    "consumer sentiment measure of respondents’ perceptions of their",
    "personal finances relative to the previous year; ANZ-Roy Morgan",
    "index rescaled to have the same average as the Westpac-Melbourne",
    "Institute index since 1996",
  ], 387, 403, 285, 10.4);
  T("Sources:   ANZ-Roy Morgan; RBA; Westpac and Melbourne Institute", 385, 341, { size: 8.7, align: "left" });

  // ---------- Panel 3 ----------
  const p3a = addPanel({
    left: 18, top: 378, width: 315, height: 163, xMin: 1999.03, xMax: 2016.3,
    yMin: 0, yMax: 12, yStep: 4, yShow: [4, 8], xLabels: null, ticks: false,
  });
  const p3b = addPanel({
    left: 18, top: 541, width: 315, height: 70, xMin: 1999.03, xMax: 2016.3,
    yMin: -5, yMax: 5, yStep: 5, yShow: [-5, 0], split: false, xLabels: mid(retailXLabels), ticks: true, labelMargin: 7,
  });
  series.push(line(p3a, retailValues, C.orange));
  series.push(line(p3a, retailVolumes, C.blue));
  series.push({
    type: "bar", xAxisIndex: p3b.x, yAxisIndex: p3b.y, barWidth: 2.7, silent: true,
    itemStyle: { color: C.bar },
    data: retailVolQuarterly.map((v, i) => [retailVolQuarterlyStart + i * 0.25, v]),
    markLine: refLines([{ yAxis: 0 }]),
  });
  graphic.push({ type: "line", silent: true, z: 9, shape: { x1: 18, y1: 541, x2: 333, y2: 541 }, style: { stroke: "#3a3a3a", lineWidth: 2 } });
  T("Retail Sales Growth", 175, 368, { size: 15.5, bold: true });
  T("%", 12, 384); T("%", 340, 384);
  T("%", 12, 547); T("%", 340, 547);
  T("Volumes (quarterly)", 175, 550, { size: 10.5 });
  T("Values", 188, 405, { color: C.orange, size: 12 });
  T("(year-ended*)", 188, 418, { color: C.orange, size: 9 });
  T("Volumes", 97, 504, { color: C.blue, size: 12 });
  T("(year-ended)", 97, 515, { color: C.blue, size: 9 });
  foot(["Percentage change over year to latest three months"], 18, 35, 642, 10.5);
  T("Source:", 17, 655, { size: 8.7, align: "left" });
  T("ABS", 53, 655, { size: 8.7, align: "left" });

  // ---------- Panel 4 ----------
  const p4a = addPanel({
    left: 373, top: 380, width: 309, height: 113.4, xMin: 1988.04, xMax: 2015.63,
    yMin: -5, yMax: 15, yStep: 5, yShow: [0, 5, 10], xLabels: null, ticks: false, yMargin: 3,
  });
  const p4b = addPanel({
    left: 373, top: 493.4, width: 309, height: 113.3, xMin: 1988.04, xMax: 2015.63,
    yMin: -5, yMax: 15, yStep: 5, yShow: [-5, 0, 5, 10], xLabels: hhXLabels, ticks: true, labelMargin: 6, yMargin: 3,
  });
  series.push(line(p4a, hhConsumption, C.hhOrange, { markLine: refLines([{ yAxis: 0 }]) }));
  series.push(line(p4a, hhDisposableIncome, C.hhBlue));
  series.push(line(p4b, hhSavingRatio, C.red, { markLine: refLines([{ yAxis: 0 }]) }));
  graphic.push({ type: "line", silent: true, z: 9, shape: { x1: 373, y1: 493.4, x2: 682, y2: 493.4 }, style: { stroke: "#3a3a3a", lineWidth: 2 } });
  T("Household Income and Consumption*", 527, 368, { size: 15.5, bold: true });
  T("%", 367, 385); T("%", 689, 385);
  T("%", 367, 498); T("%", 689, 498);
  T("Real year-ended growth", 528, 387, { size: 11 });
  T("Saving ratio", 528, 502, { size: 11 });
  T("Consumption", 455, 424, { color: C.hhOrange, size: 12 });
  T("Disposable income", 547, 478, { color: C.hhBlue, size: 11.5 });
  foot([
    "Household sector includes unincorporated enterprises; disposable",
    "income is after tax and interest payments; income level smoothed",
    "with a two-quarter moving average between March quarter 2000 and",
    "March quarter 2002; saving ratio is net of depreciation",
  ], 375, 391, 637, 11);
  T("Sources:   ABS; RBA", 373, 683, { size: 8.7, align: "left" });

  // ---------- Panel 5 ----------
  const p5 = addPanel({
    left: 24, top: 748.7, width: 301, height: 222, xMin: 1989.91, xMax: 2016.79,
    yMin: 0, yMax: 24, yStep: 4, yShow: [0, 4, 8, 12, 16, 20], xLabels: bldXLabels, ticks: true, labelMargin: 5.5,
  });
  series.push(line(p5, bldTotal, C.orange));
  series.push(line(p5, bldDetached, C.detached));
  series.push(line(p5, bldHigherDensity, C.hdGreen));
  T("Private Residential Building Approvals", 175, 723, { size: 15.5, bold: true });
  T("Monthly", 173, 740, { size: 10.5 });
  T("'000", 17, 755); T("'000", 337, 755);
  T("Total", 278, 798, { color: C.orange, size: 11.5 });
  T("Detached", 208, 902, { color: C.detached, size: 11.5 });
  T("houses", 208, 916, { color: C.detached, size: 11.5 });
  T("Higher-density housing", 177, 955, { color: C.hdGreen, size: 11.5 });

  // ---------- Panel 6 ----------
  const p6 = addPanel({
    left: 386, top: 747.3, width: 290, height: 216, xMin: 2001.93, xMax: 2016.12,
    yMin: 0, yMax: 30, yStep: 5, yShow: [0, 5, 10, 15, 20, 25], xLabels: mid(loanXLabels), ticks: true, labelMargin: 4.5,
  });
  series.push(line(p6, loanTotal, C.navy));
  series.push(line(p6, loanOwnerOccupiers, C.orange));
  series.push(line(p6, loanInvestors, C.invGreen));
  T("Housing Loan Approvals", 532, 737, { size: 15.5, bold: true });
  T("$b", 373, 753); T("$b", 687, 753);
  T("Total", 498, 804, { color: C.navy, size: 11.5 });
  T("Owner-occupiers*", 593, 867, { color: C.orange, size: 11.5 });
  T("Investors**", 432, 939, { color: C.invGreen, size: 11.5 });
  T("*", 390, 992, { size: 8.7, align: "left" });
  T("Excludes refinancing", 402, 992, { size: 8.7, align: "left" });
  T("**", 390, 1004, { size: 8.7, align: "left" });
  T("Includes refinancing", 402, 1004, { size: 8.7, align: "left" });
  T("Sources:   ABS; RBA", 385, 1018, { size: 8.7, align: "left" });

  return {
    animation: false,
    backgroundColor: "#ffffff",
    textStyle: { fontFamily: FONT },
    grid, xAxis, yAxis, series, graphic,
  };
}

export default function App() {
  const ref = useRef<HTMLDivElement>(null);
  useEffect(() => {
    if (!ref.current) return;
    const chart = echarts.init(ref.current, null, { renderer: "svg", width: 720, height: 1024 });
    chart.setOption(buildOption() as any);
    return () => chart.dispose();
  }, []);
  return (
    <div
      ref={ref}
      style={{ position: "absolute", left: 0, top: 0, width: 720, height: 1024, background: "#fff" }}
    />
  );
}
